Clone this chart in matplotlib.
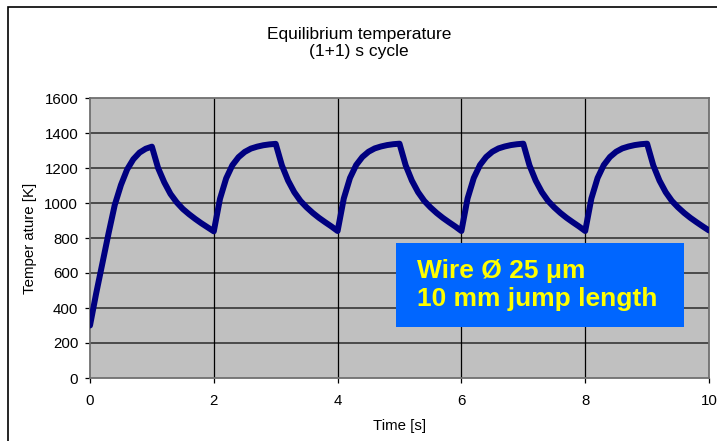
"""
Equilibrium temperature of a wire under a (1+1) s heating/cooling cycle.
Values read off the reference chart.
"""

import matplotlib
matplotlib.use("Agg")
import matplotlib.pyplot as plt
from matplotlib.patches import Rectangle

plt.rcParams["font.family"] = ["Liberation Sans", "DejaVu Sans"]

# ----------------------------------------------------------------------
# Data (0.1 s steps)
# ----------------------------------------------------------------------

time_s = [round(0.1 * i, 1) for i in range(101)]

temperature_K = [
    # 0 - 1 s  heating from room temperature
    300, 484, 655, 827, 989, 1103, 1192, 1250, 1288, 1310, 1322,
    # 1 - 2 s  cooling
    1200, 1118, 1052, 1004, 966, 936, 909, 884, 861, 838,
    # 2 - 3 s  heating
    1024, 1141, 1216, 1262, 1292, 1311, 1322, 1330, 1335, 1338,
    # 3 - 4 s  cooling
    1215, 1128, 1062, 1012, 975, 943, 915, 890, 866, 840,
    # 4 - 5 s  heating
    1026, 1143, 1217, 1263, 1293, 1312, 1323, 1331, 1336, 1339,
    # 5 - 6 s  cooling
    1215, 1128, 1062, 1012, 975, 943, 915, 890, 866, 840,
    # 6 - 7 s  heating
    1026, 1143, 1217, 1263, 1293, 1312, 1323, 1331, 1336, 1339,
    # 7 - 8 s  cooling
    1215, 1128, 1062, 1012, 975, 943, 915, 890, 866, 840,
    # 8 - 9 s  heating
    1026, 1143, 1217, 1263, 1293, 1312, 1323, 1331, 1336, 1339,
    # 9 - 10 s cooling
    1215, 1128, 1062, 1012, 975, 943, 915, 890, 866, 843,
]

x_ticks = [0, 2, 4, 6, 8, 10]
y_ticks = [0, 200, 400, 600, 800, 1000, 1200, 1400, 1600]

title = "Equilibrium temperature\n(1+1) s cycle"
note = "Wire Ø 25 μm\n10 mm jump length"


# ----------------------------------------------------------------------
# Plot
# ----------------------------------------------------------------------

fig = plt.figure(figsize=(7.17, 4.41), dpi=100)
ax = fig.add_axes([90 / 717, 63 / 441, 619 / 717, 280 / 441])

ax.set_facecolor("#c0c0c0")
ax.set_xlim(0, 10)
ax.set_ylim(0, 1600)
ax.set_xticks(x_ticks)
ax.set_yticks(y_ticks)

# grid: dark horizontal lines, thin black vertical lines
for y in y_ticks[1:-1]:
    ax.axhline(y, color="#4a4a4a", lw=1.4, zorder=1)
for x in x_ticks[1:-1]:
    ax.axvline(x, color="black", lw=0.9, zorder=1)

ax.plot(time_s, temperature_K, color="#000080", lw=4.3,
        solid_capstyle="round", solid_joinstyle="round", zorder=3)

for sp in ax.spines.values():
    sp.set_color("#707070")
    sp.set_linewidth(1.3)

ax.tick_params(direction="out", length=3.5, width=0.9, color="black",
               labelsize=10.8)
ax.tick_params(axis="x", pad=8)
ax.tick_params(axis="y", pad=5)

ax.set_xlabel("Time [s]", fontsize=10.8, labelpad=8)
ax.set_ylabel("Temper ature [K]", fontsize=10.8, labelpad=5)

fig.text(359 / 717, 1 - 43 / 441, title, ha="center", va="center",
         fontsize=12.5, linespacing=1.15)

# highlighted annotation box
ax.add_patch(Rectangle((4.94, 292), 4.65, 477, facecolor="#0066ff",
                       edgecolor="none", zorder=4))
ax.text(5.28, 530, note, color="#ffff00", fontsize=19, fontweight="bold",
        va="center", ha="left", linespacing=1.22, zorder=5)

# outer chart frame (only top and left edges visible)
fig.add_artist(Rectangle((8 / 717, -0.2), 1.2, 1.2 + (441 - 7) / 441 - 1,
                         transform=fig.transFigure, fill=False,
                         edgecolor="black", lw=1.2))

fig.savefig("out.png", dpi=100)
